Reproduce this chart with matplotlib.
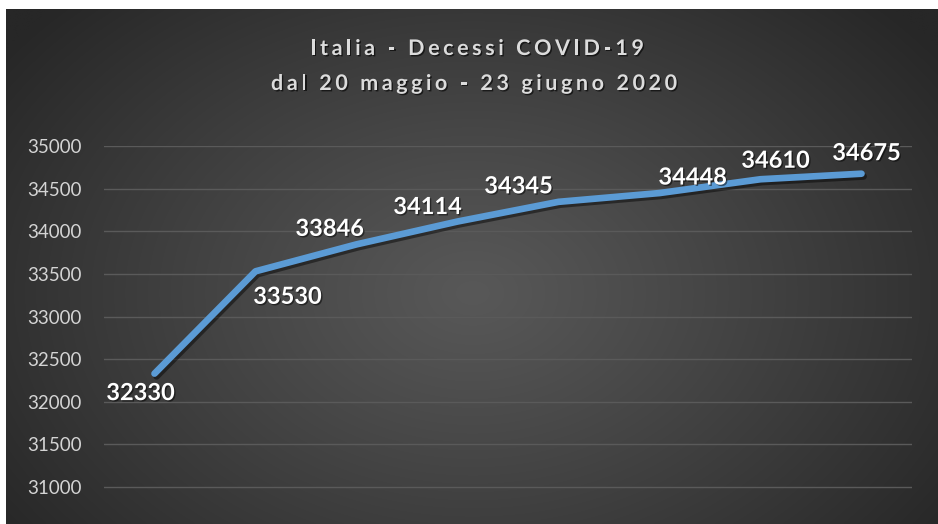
import numpy as np
import matplotlib
matplotlib.use("Agg")
import matplotlib.pyplot as plt
import matplotlib.patheffects as pe

# Cumulative COVID-19 deaths in Italy, 20 May - 23 June 2020
decessi = [32330, 33530, 33846, 34114, 34345, 34448, 34610, 34675]
punti = list(range(len(decessi)))
tick_valori = [31000, 31500, 32000, 32500, 33000, 33500, 34000, 34500, 35000]
titolo = ["Italia - Decessi COVID-19", "dal 20 maggio - 23 giugno 2020"]

# label offsets (pixels) relative to each point
offset_etichette = [(-14, -19), (32, -25), (-27, 16), (-30, 15),
                    (-40, 16), (33, 16), (15, 19), (5, 21)]

W, H = 938, 524
fig = plt.figure(figsize=(W / 100, H / 100), dpi=100, facecolor="white")

# dark panel with radial gradient
bg = fig.add_axes([6 / W, 0, 931 / W, 515 / H])
bg.set_axis_off()
ny, nx = 300, 540
yy, xx = np.mgrid[0:ny, 0:nx]
cx, cy = nx * 0.50, ny * 0.55
r = np.sqrt(((xx - cx) / (nx * 0.62)) ** 2 + ((yy - cy) / (ny * 0.80)) ** 2)
r = np.clip(r, 0, 1)
c_in, c_out = 0x58 / 255, 0x27 / 255
val = c_in + (c_out - c_in) * r ** 1.1
img = np.dstack([val, val, val])
bg.imshow(img, aspect="auto", extent=[0, 1, 0, 1], interpolation="bilinear")
bg.set_xlim(0, 1)
bg.set_ylim(0, 1)

# plot area
top_px, step_px = 146, 42.625
ymin, ymax = 30500, 35000
bottom_px = top_px + (ymax - ymin) / 500 * step_px
ax = fig.add_axes([104 / W, 1 - bottom_px / H, 808 / W, (bottom_px - top_px) / H])
ax.set_facecolor("none")
ax.set_xlim(-0.5, len(decessi) - 0.5)
ax.set_ylim(ymin, ymax)
for s in ax.spines.values():
    s.set_visible(False)
ax.set_xticks([])
ax.set_yticks(tick_valori)
ax.set_yticklabels([str(v) for v in tick_valori])
ax.tick_params(axis="y", length=0, pad=16, labelsize=13.5, labelcolor="#d4d4d4")
for lab in ax.get_yticklabels():
    lab.set_fontfamily("Lato")
ax.grid(axis="y", color="#5a5a5a", linewidth=1.0)
ax.set_axisbelow(True)

ax.plot(punti, decessi, color="#5b9bd5", linewidth=4.8,
        solid_capstyle="round", solid_joinstyle="round", zorder=3,
        path_effects=[pe.SimpleLineShadow(offset=(1.5, -2), shadow_color="black", alpha=0.45),
                      pe.Normal()])

for x, v, (dx, dy) in zip(punti, decessi, offset_etichette):
    ax.annotate(str(v), (x, v), xytext=(dx * 0.72, dy * 0.72), textcoords="offset points",
                ha="center", va="center", fontsize=17, fontweight="bold",
                fontfamily="Lato", color="white", zorder=4,
                path_effects=[pe.SimplePatchShadow(offset=(1, -1), shadow_rgbFace="black", alpha=0.5),
                              pe.Normal()])

# letter-spaced title
renderer = fig.canvas.get_renderer()


def larghezza(s, size):
    t = fig.text(0, 0, s, fontsize=size, fontweight="bold", fontfamily="Lato")
    w = t.get_window_extent(renderer).width
    t.remove()
    return w


def titolo_spaziato(testo, baseline_px, centro_px, spacing=3.6, size=15.5):
    spazio = larghezza("a a", size) - larghezza("aa", size)
    larghezze = [spazio if ch == " " else larghezza(ch, size) for ch in testo]
    totale = sum(larghezze) + spacing * (len(testo) - 1)
    x = centro_px - totale / 2
    for ch, w in zip(testo, larghezze):
        if ch != " ":
            fig.text(x / W, 1 - baseline_px / H, ch, fontsize=size, fontweight="bold",
                     fontfamily="Lato", color="#dcdcdc", ha="left", va="baseline",
                     path_effects=[pe.SimplePatchShadow(offset=(1, -1), shadow_rgbFace="black", alpha=0.6),
                                   pe.Normal()])
        x += w + spacing


titolo_spaziato(titolo[0], 55, 477)
titolo_spaziato(titolo[1], 90, 474)

fig.savefig("out.png", dpi=100, facecolor="white")
